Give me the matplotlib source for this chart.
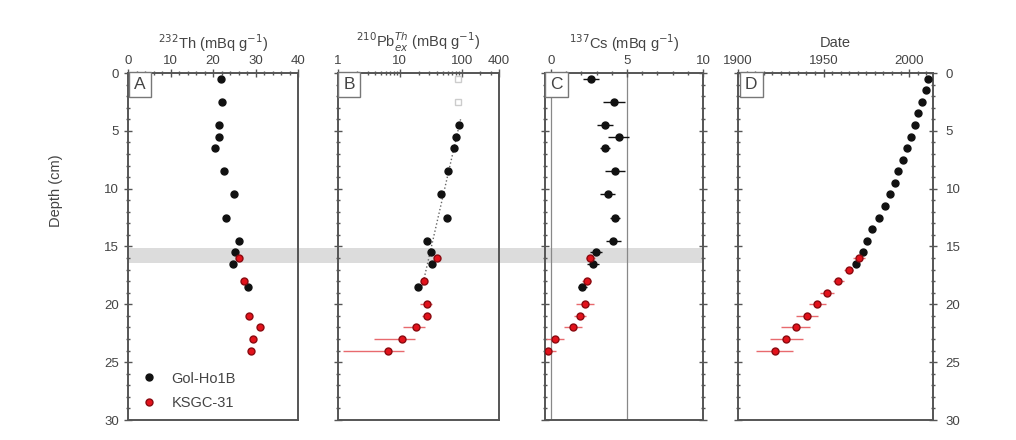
import numpy as np
import matplotlib
matplotlib.use("Agg")
import matplotlib.pyplot as plt
import matplotlib.transforms as mtransforms
from matplotlib.patches import Rectangle
from matplotlib.ticker import MultipleLocator, FixedLocator, NullFormatter, LogLocator

plt.rcParams['font.family'] = ['Liberation Sans', 'DejaVu Sans']

# ---------------- data ----------------
# Gol-Ho1B (black)
gol_depth = [0.5, 2.5, 4.5, 5.5, 6.5, 8.5, 10.5, 12.5, 14.5, 15.5, 16.5, 18.5]
gol_th = [21.8, 22.0, 21.3, 21.5, 20.4, 22.7, 24.9, 23.1, 26.0, 25.2, 24.8, 28.2]
gol_pb = [None, None, 90.6, 80, 74, 61, 46, 57, 27, 31.6, 33.6, 19.7]
gol_pb_excl_depth = [0.5, 2.5]
gol_pb_excl = [88, 88]
gol_cs = [2.63, 4.14, 3.55, 4.45, 3.55, 4.23, 3.73, 4.21, 4.10, 2.96, 2.74, 2.04]
gol_cs_err = [0.5, 0.7, 0.55, 0.7, 0.3, 0.65, 0.5, 0.3, 0.5, 0.4, 0.4, 0.3]
gol_date_depth = [0.5, 1.5, 2.5, 3.5, 4.5, 5.5, 6.5, 7.5, 8.5, 9.5, 10.5,
                  11.5, 12.5, 13.5, 14.5, 15.5, 16.5]
gol_date = [2011.2, 2009.7, 2007.7, 2005.4, 2003.2, 2001.0, 1998.6, 1996.2,
            1993.8, 1991.5, 1989.0, 1986.0, 1982.5, 1978.3, 1975.2, 1972.9, 1969.0]

# KSGC-31 (red)
ks_th_depth = [16, 18, 21, 22, 23, 24]
ks_th = [26.2, 27.3, 28.5, 31.1, 29.3, 28.9]
ks_depth = [16, 18, 20, 21, 22, 23, 24]
ks_pb = [40.5, 24.7, 27, 27, 18.1, 10.8, 6.5]
ks_pb_err = [4, 3, 6, 4, 7, 7, 5.3]
ks_cs = [2.57, 2.35, 2.24, 1.91, 1.43, 0.26, -0.18]
ks_cs_err = [0.3, 0.3, 0.6, 0.4, 0.6, 0.6, 0.5]
ks_date_depth = [16, 17, 18, 19, 20, 21, 22, 23, 24]
ks_date = [1970.9, 1964.7, 1958.7, 1951.9, 1946.3, 1940.3, 1933.7, 1928.3, 1921.5]
ks_date_err = [3.5, 2.5, 3.0, 4.2, 5.0, 6.3, 8.4, 9.7, 10.9]

band = (15.1, 16.4)

# ---------------- style ----------------
BLK = '#111111'
RED = '#e3121b'
AXC = '#555555'
TXT = '#444444'
MS = 5
LFS = 10.5   # axis label font size
TFS = 9.5    # tick label font size

fig = plt.figure(figsize=(10.16, 4.4), dpi=100)
H = 440.0
W = 1016.0
top, bot = 73, 420
def axpos(x0, x1):
    return [x0 / W, 1 - bot / H, (x1 - x0) / W, (bot - top) / H]

axA = fig.add_axes(axpos(128, 298))
axB = fig.add_axes(axpos(338, 499))
axC = fig.add_axes(axpos(545, 703))
axD = fig.add_axes(axpos(738, 933))
axes = [axA, axB, axC, axD]

for ax in axes:
    ax.set_facecolor('none')
    ax.set_ylim(30, 0)
    for s in ax.spines.values():
        s.set_color(AXC)
        s.set_linewidth(1.4)
    ax.xaxis.set_ticks_position('top')
    ax.xaxis.set_label_position('top')
    ax.yaxis.set_major_locator(MultipleLocator(5))
    ax.yaxis.set_minor_locator(MultipleLocator(1))
    ax.tick_params(axis='both', which='both', colors=AXC, labelcolor=TXT, labelsize=TFS, width=1)
    ax.tick_params(axis='both', which='major', length=6, direction='inout')
    ax.tick_params(axis='both', which='minor', length=3.5, direction='inout')
    ax.tick_params(axis='y', left=True, right=False, labelleft=False)
    ax.tick_params(axis='x', pad=1)

# shaded band across A-C (figure-level, behind axes)
trans = mtransforms.blended_transform_factory(fig.transFigure, axA.transData)
rect = Rectangle((128 / W, band[0]), (703 - 128) / W, band[1] - band[0],
                 transform=trans, facecolor='#dcdcdc', edgecolor='none', zorder=-1)
fig.patches.append(rect)

# ---- Panel A ----
axA.set_xlim(0, 40)
axA.xaxis.set_major_locator(MultipleLocator(10))
axA.xaxis.set_minor_locator(MultipleLocator(2))
axA.tick_params(axis='y', labelleft=True)
axA.set_xlabel('$^{232}$Th (mBq g$^{-1}$)', color=TXT, fontsize=LFS, labelpad=5)
axA.set_ylabel('Depth (cm)', color=TXT, fontsize=LFS)
axA.yaxis.set_label_coords(-0.38, 0.66)
axA.plot(gol_th, gol_depth, 'o', color=BLK, ms=MS, label='Gol-Ho1B', zorder=3)
axA.plot(ks_th, ks_th_depth, 'o', color=RED, mec='#8a0a10', ms=MS, label='KSGC-31', zorder=3)
leg = axA.legend(loc='lower left', frameon=False, fontsize=LFS, handletextpad=0.8,
                 borderaxespad=0.5, labelspacing=0.7, handlelength=1.5, borderpad=0.2)
for t in leg.get_texts():
    t.set_color(TXT)

# ---- Panel B ----
axB.set_xscale('log')
axB.set_xlim(1, 400)
axB.xaxis.set_major_locator(FixedLocator([1, 10, 100, 400]))
axB.xaxis.set_major_formatter(matplotlib.ticker.FixedFormatter(['1', '10', '100', '400']))
axB.xaxis.set_minor_locator(LogLocator(base=10, subs=np.arange(2, 10), numticks=20))
axB.xaxis.set_minor_formatter(NullFormatter())
axB.set_xlabel('$^{210}$Pb$^{Th}_{ex}$ (mBq g$^{-1}$)', color=TXT, fontsize=LFS, labelpad=6)
gd = np.array([d for d, v in zip(gol_depth, gol_pb) if v is not None])
gv = np.array([v for v in gol_pb if v is not None])
coef = np.polyfit(gd, np.log(gv), 1)
fd = np.linspace(4.0, 18.5, 50)
axB.plot(np.exp(np.polyval(coef, fd)), fd, ':', color='#666666', lw=1.0, zorder=2)
axB.plot(gol_pb_excl, gol_pb_excl_depth, 's', mfc='none', mec='#cccccc', ms=4, zorder=3)
axB.plot(gv, gd, 'o', color=BLK, ms=MS, zorder=3)
axB.errorbar(ks_pb, ks_depth, xerr=ks_pb_err, fmt='o', color=RED, mec='#8a0a10', ms=MS,
             ecolor='#e86a6e', elinewidth=1, capsize=0, zorder=3)

# ---- Panel C ----
axC.set_xlim(-0.4, 10)
axC.xaxis.set_major_locator(FixedLocator([0, 5, 10]))
axC.xaxis.set_minor_locator(MultipleLocator(1))
axC.tick_params(axis='y', right=True, which='both')
axC.set_xlabel('$^{137}$Cs (mBq g$^{-1}$)', color=TXT, fontsize=LFS, labelpad=5)
axC.axvline(0, color='#888888', lw=0.9, zorder=1)
axC.axvline(5, color='#888888', lw=0.9, zorder=1)
axC.errorbar(gol_cs, gol_depth, xerr=gol_cs_err, fmt='o', color=BLK, ms=MS,
             elinewidth=1, capsize=0, zorder=3)
axC.errorbar(ks_cs, ks_depth, xerr=ks_cs_err, fmt='o', color=RED, mec='#8a0a10', ms=MS,
             ecolor='#e86a6e', elinewidth=1, capsize=0, zorder=3)

# ---- Panel D ----
axD.set_xlim(1900, 2014)
axD.xaxis.set_major_locator(FixedLocator([1900, 1950, 2000]))
axD.xaxis.set_minor_locator(MultipleLocator(5))
axD.tick_params(axis='y', right=True, labelright=True, which='both')
axD.tick_params(axis='y', which='major', pad=6)
axD.set_xlabel('Date', color=TXT, fontsize=LFS, labelpad=6)
axD.plot(gol_date, gol_date_depth, 'o', color=BLK, ms=MS, zorder=3)
axD.errorbar(ks_date, ks_date_depth, xerr=ks_date_err, fmt='o', color=RED, mec='#8a0a10',
             ms=MS, ecolor='#e86a6e', elinewidth=1, capsize=0, zorder=3)

# panel letters
for ax, lab in zip(axes, ['A', 'B', 'C', 'D']):
    ax.text(0.035, 0.988, lab, transform=ax.transAxes, ha='left', va='top',
            fontsize=12.5, color=TXT,
            bbox=dict(boxstyle='square,pad=0.3', fc='white', ec='#777777', lw=1))

fig.savefig('out.png', dpi=100)
